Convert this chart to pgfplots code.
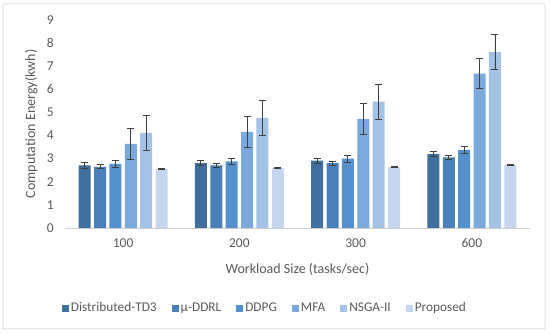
\documentclass[border=0pt]{standalone}
\usepackage{fontspec}
\setmainfont{Carlito}
\usepackage{pgfplots}
\pgfplotsset{compat=1.18}
\definecolor{txt}{HTML}{595959}
\definecolor{cA}{HTML}{3F6F9D}
\definecolor{cB}{HTML}{4A7FB9}
\definecolor{cC}{HTML}{5592CD}
\definecolor{cD}{HTML}{7BA9DC}
\definecolor{cE}{HTML}{A4C1E6}
\definecolor{cF}{HTML}{C6D6EE}
\definecolor{errc}{HTML}{404040}
\begin{document}
\fontsize{12.5}{14}\selectfont
\begin{tikzpicture}
\useasboundingbox (-65pt,-106pt) rectangle (485pt,228pt);
\draw[gray!25, line width=1pt, rounded corners=1pt] (-62pt,-101pt) rectangle (480pt,224pt);
\begin{axis}[
  at={(0pt,0pt)}, anchor=south west,
  scale only axis, width=465pt, height=208pt,
  ybar=3.4pt, bar width=12pt,
  xmin=-0.5, xmax=3.5, ymin=0, ymax=9,
  xtick={0,1,2,3}, xticklabels={100,200,300,600},
  ytick={0,1,...,9},
  axis x line*=bottom, axis y line*=left,
  x axis line style={draw=gray!35, line width=0.8pt, -},
  y axis line style={draw=none},
  major tick length=0pt,
  ticklabel style={text=txt, font=\fontsize{13.5}{15}\selectfont},
  /pgf/number format/assume math mode=true,
  xticklabel style={yshift=-6pt},
  yticklabel style={xshift=-7pt},
  ylabel={Computation Energy(kwh)},
  xlabel={Workload Size (tasks/sec)},
  label style={text=txt, font=\fontsize{14}{16}\selectfont},
  ylabel style={at={(axis description cs:0,0.5)}, anchor=south, yshift=23pt},
  xlabel style={at={(axis description cs:0.5,0)}, anchor=north, yshift=-31pt},
  legend columns=6,
  legend style={at={(0.43,-0.385)}, anchor=center, draw=none, fill=none,
    font=\fontsize{13.3}{15}\selectfont, text=txt,
    /tikz/every even column/.append style={column sep=13pt}},
  legend image code/.code={\fill[#1] (0pt,-3.5pt) rectangle (7pt,3.5pt);},
  error bars/y dir=both, error bars/y explicit,
  error bars/error bar style={errc, line width=0.9pt},
  error bars/error mark options={rotate=90, errc, mark size=3.5pt, line width=0.9pt},
]
\addplot[fill=cA, draw=none] coordinates {(0,2.71) +- (0,0.12) (1,2.81) +- (0,0.11) (2,2.91) +- (0,0.12) (3,3.20) +- (0,0.11)};
\addplot[fill=cB, draw=none] coordinates {(0,2.65) +- (0,0.09) (1,2.71) +- (0,0.10) (2,2.81) +- (0,0.09) (3,3.06) +- (0,0.09)};
\addplot[fill=cC, draw=none] coordinates {(0,2.77) +- (0,0.15) (1,2.88) +- (0,0.13) (2,3.00) +- (0,0.15) (3,3.38) +- (0,0.15)};
\addplot[fill=cD, draw=none] coordinates {(0,3.64) +- (0,0.66) (1,4.16) +- (0,0.67) (2,4.72) +- (0,0.66) (3,6.68) +- (0,0.66)};
\addplot[fill=cE, draw=none] coordinates {(0,4.12) +- (0,0.76) (1,4.77) +- (0,0.75) (2,5.47) +- (0,0.76) (3,7.61) +- (0,0.76)};
\addplot[fill=cF, draw=none] coordinates {(0,2.56) +- (0,0.02) (1,2.59) +- (0,0.02) (2,2.63) +- (0,0.02) (3,2.72) +- (0,0.02)};
\legend{Distributed-TD3, μ-DDRL, DDPG, MFA, NSGA-II, Proposed}
\end{axis}
\end{tikzpicture}
\end{document}
